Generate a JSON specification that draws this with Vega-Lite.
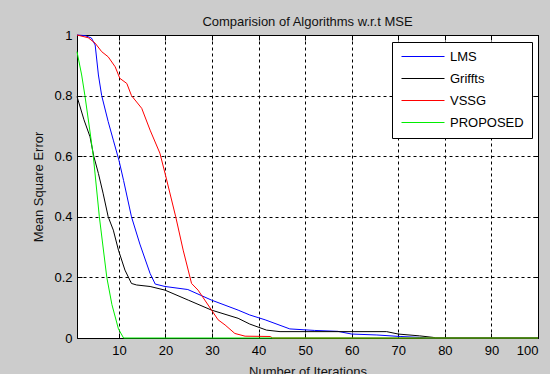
{
  "$schema": "https://vega.github.io/schema/vega-lite/v6.json",
  "width": 461,
  "height": 303,
  "autosize": {"type": "none"},
  "padding": {"left": 77, "top": 35, "right": 12, "bottom": 36},
  "background": "#cccccc",
  "title": {
    "text": "Comparision of Algorithms w.r.t MSE",
    "font": "Liberation Sans",
    "fontSize": 13,
    "fontWeight": "normal",
    "color": "#111111",
    "anchor": "middle",
    "baseline": "alphabetic",
    "offset": 10,
    "dy": 20
  },
  "data": {
    "values": [
      {"s": "LMS", "x": 1, "y": 1},
      {"s": "LMS", "x": 2.7, "y": 0.998},
      {"s": "LMS", "x": 4.1, "y": 0.99},
      {"s": "LMS", "x": 4.9, "y": 0.967},
      {"s": "LMS", "x": 5.6, "y": 0.868},
      {"s": "LMS", "x": 6.3, "y": 0.8},
      {"s": "LMS", "x": 7.7, "y": 0.714},
      {"s": "LMS", "x": 8.8, "y": 0.653},
      {"s": "LMS", "x": 10, "y": 0.587},
      {"s": "LMS", "x": 11, "y": 0.52},
      {"s": "LMS", "x": 12.7, "y": 0.4},
      {"s": "LMS", "x": 14.5, "y": 0.31},
      {"s": "LMS", "x": 16.7, "y": 0.213},
      {"s": "LMS", "x": 17.8, "y": 0.178},
      {"s": "LMS", "x": 19.9, "y": 0.17},
      {"s": "LMS", "x": 24.8, "y": 0.16},
      {"s": "LMS", "x": 29.9, "y": 0.125},
      {"s": "LMS", "x": 35.6, "y": 0.092},
      {"s": "LMS", "x": 38.1, "y": 0.076},
      {"s": "LMS", "x": 41.4, "y": 0.06},
      {"s": "LMS", "x": 46.7, "y": 0.03},
      {"s": "LMS", "x": 52, "y": 0.025},
      {"s": "LMS", "x": 57, "y": 0.022},
      {"s": "LMS", "x": 60, "y": 0.013},
      {"s": "LMS", "x": 65.4, "y": 0.01},
      {"s": "LMS", "x": 70.4, "y": 0.005},
      {"s": "LMS", "x": 74.6, "y": 0.002},
      {"s": "LMS", "x": 76, "y": 0},
      {"s": "LMS", "x": 100, "y": 0},
      {"s": "Griffts", "x": 1, "y": 0.797},
      {"s": "Griffts", "x": 2.5, "y": 0.72},
      {"s": "Griffts", "x": 3.8, "y": 0.664},
      {"s": "Griffts", "x": 4.6, "y": 0.6},
      {"s": "Griffts", "x": 5.6, "y": 0.543},
      {"s": "Griffts", "x": 6.6, "y": 0.478},
      {"s": "Griffts", "x": 7.7, "y": 0.4},
      {"s": "Griffts", "x": 8.8, "y": 0.356},
      {"s": "Griffts", "x": 9.9, "y": 0.29},
      {"s": "Griffts", "x": 11.3, "y": 0.224},
      {"s": "Griffts", "x": 12.7, "y": 0.18},
      {"s": "Griffts", "x": 13.8, "y": 0.175},
      {"s": "Griffts", "x": 16.7, "y": 0.17},
      {"s": "Griffts", "x": 19.9, "y": 0.158},
      {"s": "Griffts", "x": 24.9, "y": 0.125},
      {"s": "Griffts", "x": 29.9, "y": 0.092},
      {"s": "Griffts", "x": 35.6, "y": 0.065},
      {"s": "Griffts", "x": 38.1, "y": 0.046},
      {"s": "Griffts", "x": 41.7, "y": 0.026},
      {"s": "Griffts", "x": 44.6, "y": 0.021},
      {"s": "Griffts", "x": 67.5, "y": 0.021},
      {"s": "Griffts", "x": 70, "y": 0.013},
      {"s": "Griffts", "x": 74.6, "y": 0.007},
      {"s": "Griffts", "x": 77.5, "y": 0.002},
      {"s": "Griffts", "x": 78, "y": 0},
      {"s": "Griffts", "x": 100, "y": 0},
      {"s": "VSSG", "x": 1, "y": 1},
      {"s": "VSSG", "x": 3.4, "y": 0.991},
      {"s": "VSSG", "x": 4.9, "y": 0.973},
      {"s": "VSSG", "x": 6.3, "y": 0.945},
      {"s": "VSSG", "x": 7.7, "y": 0.928},
      {"s": "VSSG", "x": 9.2, "y": 0.895},
      {"s": "VSSG", "x": 10.2, "y": 0.857},
      {"s": "VSSG", "x": 11.7, "y": 0.84},
      {"s": "VSSG", "x": 12.7, "y": 0.8},
      {"s": "VSSG", "x": 14.9, "y": 0.758},
      {"s": "VSSG", "x": 16.7, "y": 0.686},
      {"s": "VSSG", "x": 18.8, "y": 0.61},
      {"s": "VSSG", "x": 19.9, "y": 0.544},
      {"s": "VSSG", "x": 22.2, "y": 0.4},
      {"s": "VSSG", "x": 23.8, "y": 0.29},
      {"s": "VSSG", "x": 25.6, "y": 0.18},
      {"s": "VSSG", "x": 27, "y": 0.158},
      {"s": "VSSG", "x": 29.9, "y": 0.092},
      {"s": "VSSG", "x": 31.3, "y": 0.06},
      {"s": "VSSG", "x": 32.8, "y": 0.043},
      {"s": "VSSG", "x": 34.9, "y": 0.015},
      {"s": "VSSG", "x": 37.1, "y": 0.006},
      {"s": "VSSG", "x": 42.5, "y": 0.005},
      {"s": "VSSG", "x": 43, "y": 0},
      {"s": "VSSG", "x": 100, "y": 0},
      {"s": "PROPOSED", "x": 1, "y": 0.945},
      {"s": "PROPOSED", "x": 2, "y": 0.868},
      {"s": "PROPOSED", "x": 2.7, "y": 0.8},
      {"s": "PROPOSED", "x": 3.8, "y": 0.68},
      {"s": "PROPOSED", "x": 4.5, "y": 0.6},
      {"s": "PROPOSED", "x": 5.8, "y": 0.4},
      {"s": "PROPOSED", "x": 7.4, "y": 0.2},
      {"s": "PROPOSED", "x": 8.5, "y": 0.11},
      {"s": "PROPOSED", "x": 9.9, "y": 0.03},
      {"s": "PROPOSED", "x": 11, "y": 0},
      {"s": "PROPOSED", "x": 100, "y": 0}
    ]
  },
  "layer": [
    {
      "mark": {"type": "line", "strokeWidth": 1, "clip": false},
      "encoding": {
        "x": {
          "field": "x",
          "type": "quantitative",
          "scale": {"domain": [1, 100], "nice": false, "zero": false},
          "axis": {
            "orient": "bottom",
            "values": [10, 20, 30, 40, 50, 60, 70, 80, 90, 100],
            "title": "Number of Iterations",
            "titleBaseline": "top",
            "titleY": 27,
            "grid": true,
            "gridDash": [3, 3],
            "gridColor": "#000000",
            "gridOpacity": 1,
            "domain": false,
            "ticks": true,
            "tickSize": -5,
            "tickColor": "#000000",
            "labelPadding": 11
          }
        },
        "y": {
          "field": "y",
          "type": "quantitative",
          "scale": {"domain": [0, 1], "nice": false},
          "axis": {
            "orient": "left",
            "values": [0, 0.2, 0.4, 0.6, 0.8, 1],
            "format": ".1~f",
            "title": "Mean Square Error",
            "titleBaseline": "middle",
            "titleX": -39,
            "titleY": 151.5,
            "grid": true,
            "gridDash": [3, 3],
            "gridColor": "#000000",
            "gridOpacity": 1,
            "domain": false,
            "ticks": true,
            "tickSize": -5,
            "tickColor": "#000000",
            "labelPadding": 10
          }
        },
        "color": {
          "field": "s",
          "type": "nominal",
          "sort": ["LMS", "Griffts", "VSSG", "PROPOSED"],
          "scale": {
            "domain": ["LMS", "Griffts", "VSSG", "PROPOSED"],
            "range": ["#0000ff", "#000000", "#ff0000", "#00ee00"]
          },
          "legend": {
            "orient": "none",
            "legendX": 315,
            "legendY": 7,
            "title": null,
            "symbolType": "M-1,0H7.6",
            "symbolSize": 100,
            "symbolStrokeWidth": 1,
            "labelFont": "Liberation Sans",
            "labelFontSize": 13,
            "labelColor": "#000000",
            "labelOffset": 37,
            "padding": 8,
            "rowPadding": 8,
            "fillColor": "#ffffff",
            "strokeColor": "#000000"
          }
        }
      }
    },
    {
      "mark": {"type": "line", "opacity": 0},
      "encoding": {
        "x": {
          "field": "x",
          "type": "quantitative",
          "axis": {
            "orient": "top",
            "values": [10, 20, 30, 40, 50, 60, 70, 80, 90, 100],
            "labels": false,
            "title": null,
            "grid": false,
            "domain": false,
            "ticks": true,
            "tickSize": -5,
            "tickColor": "#000000"
          }
        },
        "y": {
          "field": "y",
          "type": "quantitative",
          "axis": {
            "orient": "right",
            "values": [0, 0.2, 0.4, 0.6, 0.8, 1],
            "labels": false,
            "title": null,
            "grid": false,
            "domain": false,
            "ticks": true,
            "tickSize": -5,
            "tickColor": "#000000"
          }
        }
      }
    }
  ],
  "resolve": {"axis": {"x": "independent", "y": "independent"}},
  "config": {
    "view": {"stroke": "#000000", "strokeWidth": 1, "fill": "#ffffff"},
    "axis": {
      "labelFont": "Liberation Sans",
      "labelFontSize": 13,
      "labelColor": "#000000",
      "titleFont": "Liberation Sans",
      "titleFontSize": 13,
      "titleFontWeight": "normal",
      "titleColor": "#111111"
    }
  }
}
